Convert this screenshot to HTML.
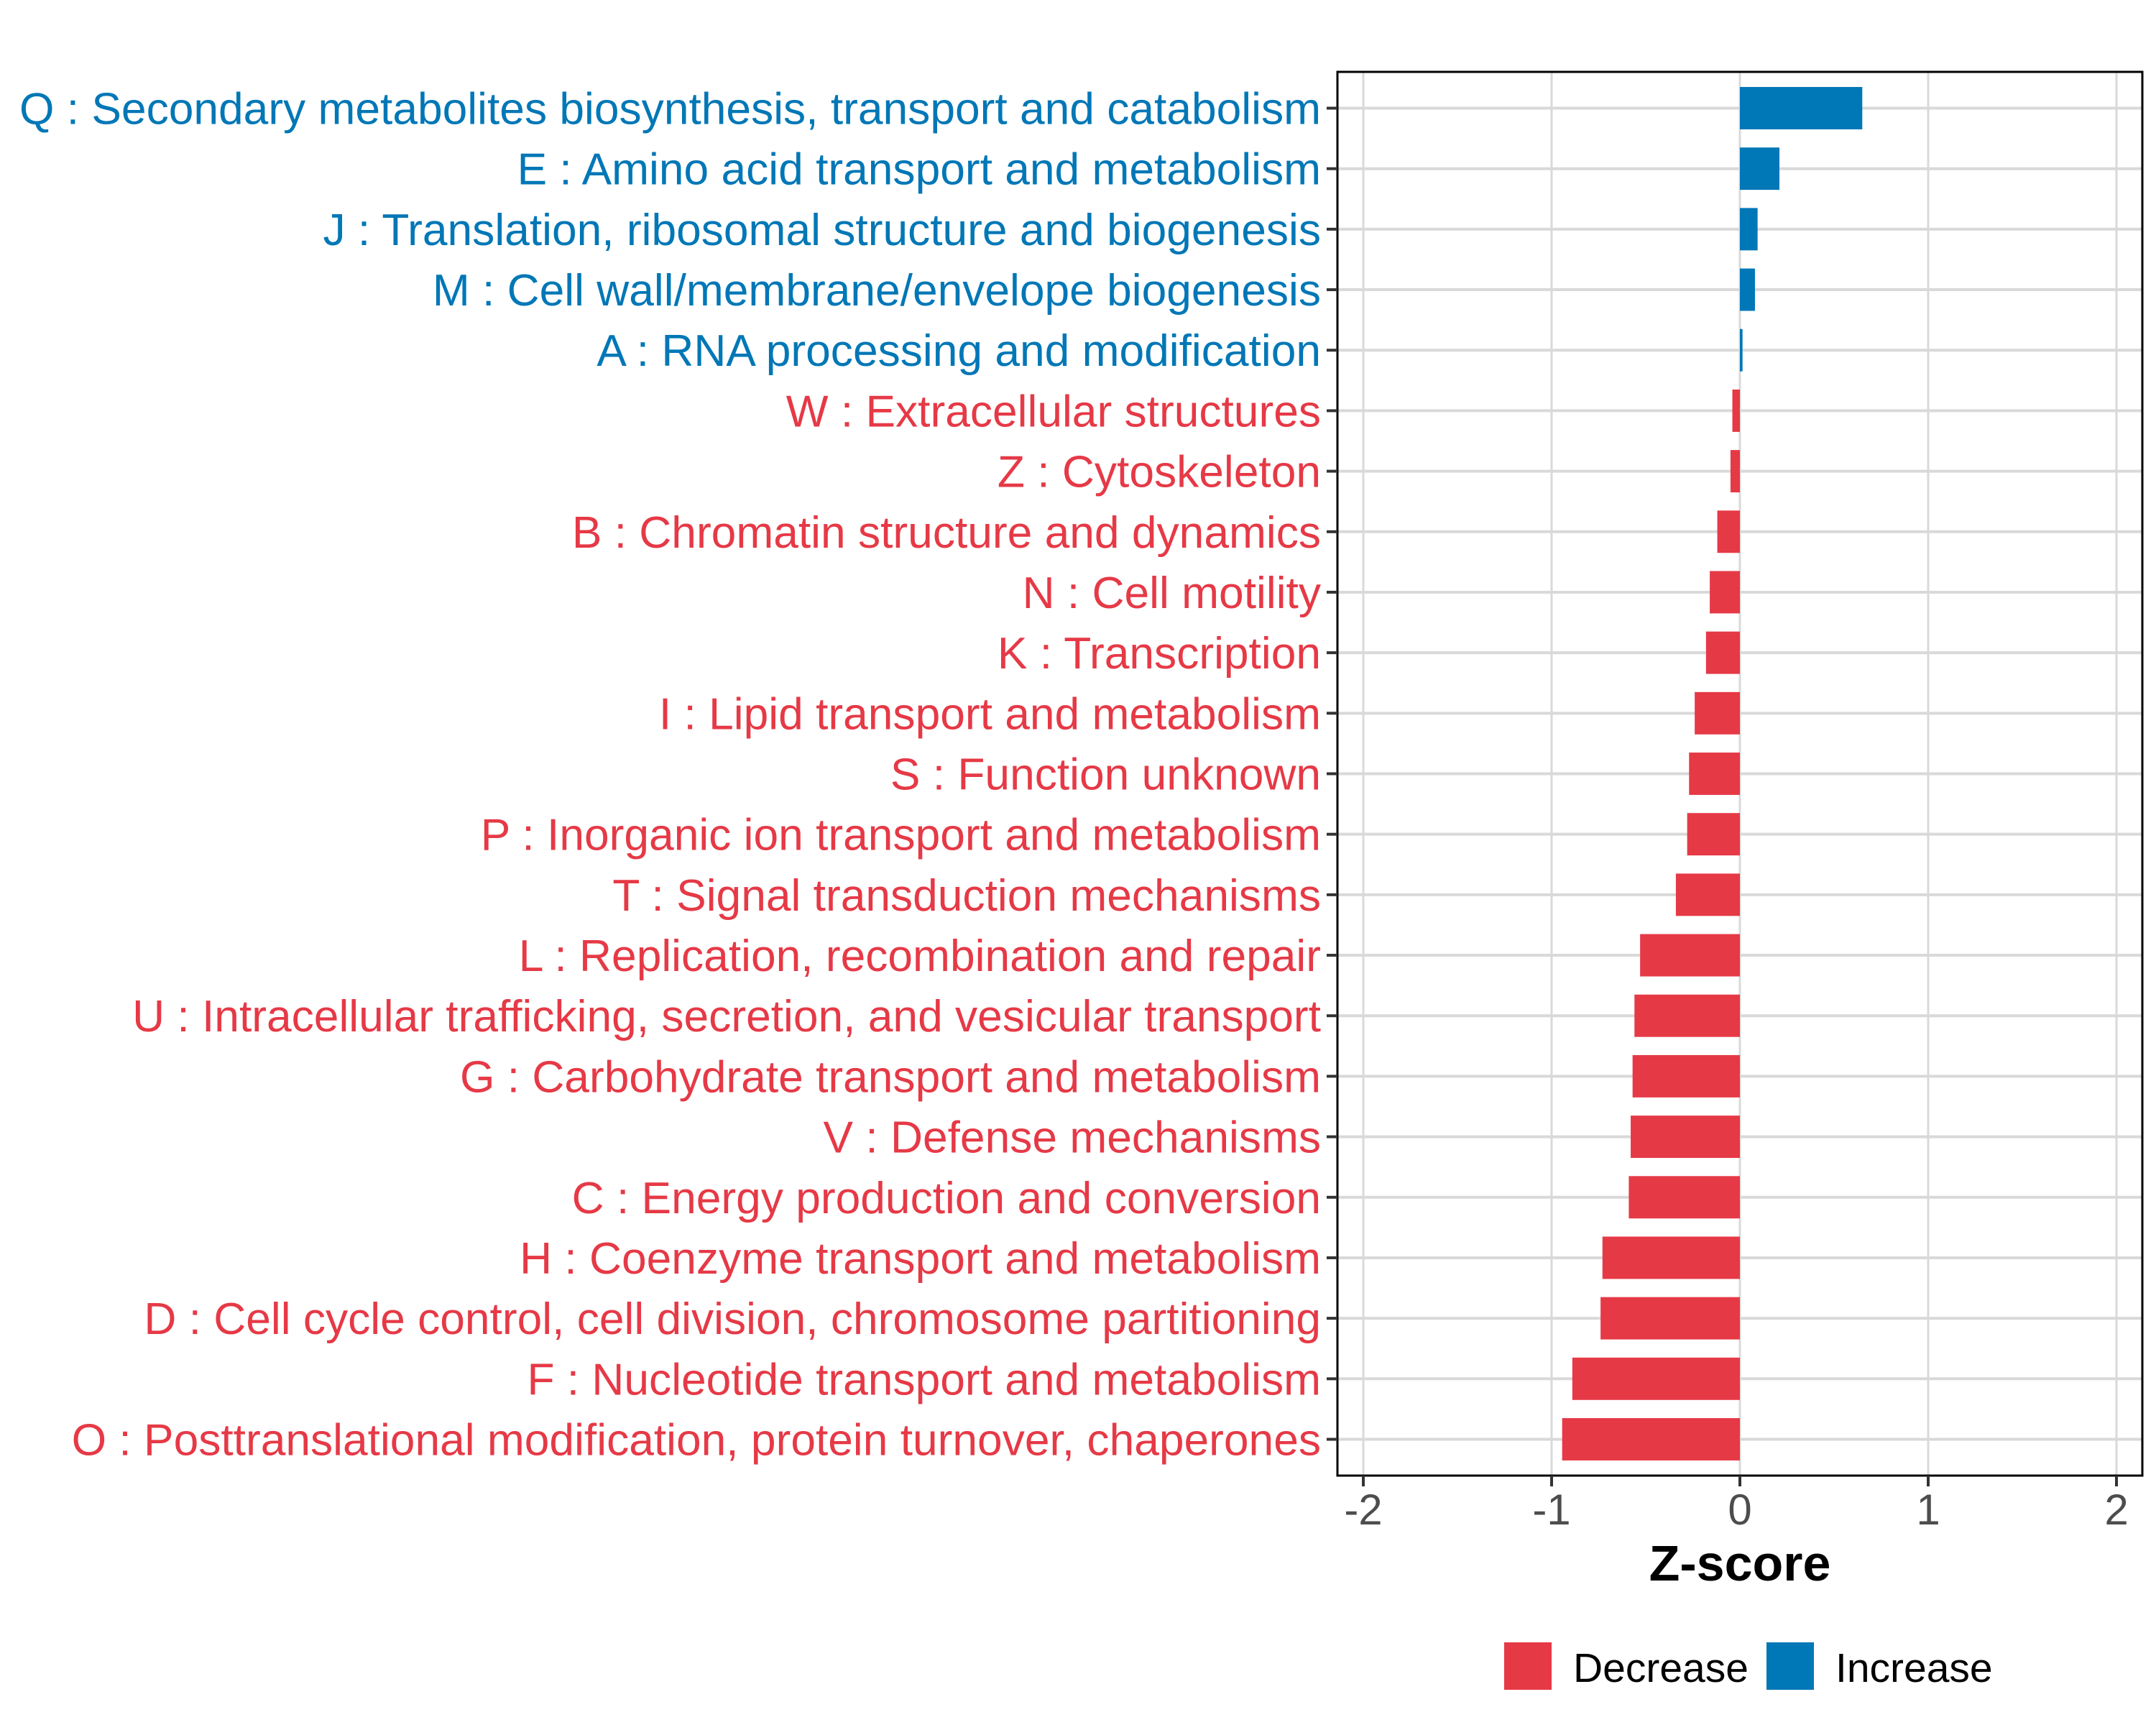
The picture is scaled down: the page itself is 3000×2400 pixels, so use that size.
<!DOCTYPE html>
<html><head><meta charset="utf-8"><style>
html,body{margin:0;padding:0;background:#fff;}
svg{display:block;font-family:"Liberation Sans",Arial,sans-serif;}
</style></head><body>
<svg id="chart" width="3000" height="2400" viewBox="0 0 3000 2400" xmlns="http://www.w3.org/2000/svg">
<rect x="0" y="0" width="3000" height="2400" fill="#fff"/>
<g id="grid"></g>
<g id="bars"></g>
<rect x="1861" y="100" width="1120" height="1953" fill="none" stroke="#000" stroke-width="3"/>
<g id="yaxis"></g>
<g id="xaxis"></g>
<text x="2421" y="2199" text-anchor="middle" font-size="70" font-weight="bold" fill="#000">Z-score</text>
<g>
<rect x="2093" y="2285" width="66" height="66" fill="#e63946"/>
<text x="2189" y="2340" font-size="57" fill="#000">Decrease</text>
<rect x="2458" y="2285" width="66" height="66" fill="#0077b6"/>
<text x="2554" y="2340" font-size="57" fill="#000">Increase</text>
</g>
</svg>
<script>
const categories = [
"Q : Secondary metabolites biosynthesis, transport and catabolism",
"E : Amino acid transport and metabolism",
"J : Translation, ribosomal structure and biogenesis",
"M : Cell wall/membrane/envelope biogenesis",
"A : RNA processing and modification",
"W : Extracellular structures",
"Z : Cytoskeleton",
"B : Chromatin structure and dynamics",
"N : Cell motility",
"K : Transcription",
"I : Lipid transport and metabolism",
"S : Function unknown",
"P : Inorganic ion transport and metabolism",
"T : Signal transduction mechanisms",
"L : Replication, recombination and repair",
"U : Intracellular trafficking, secretion, and vesicular transport",
"G : Carbohydrate transport and metabolism",
"V : Defense mechanisms",
"C : Energy production and conversion",
"H : Coenzyme transport and metabolism",
"D : Cell cycle control, cell division, chromosome partitioning",
"F : Nucleotide transport and metabolism",
"O : Posttranslational modification, protein turnover, chaperones"
];
const zscores = [0.65,0.21,0.094,0.08,0.014,-0.04,-0.05,-0.12,-0.16,-0.18,-0.24,-0.27,-0.28,-0.34,-0.53,-0.56,-0.57,-0.58,-0.59,-0.73,-0.74,-0.89,-0.944];
const xTicks = [-2,-1,0,1,2];
const xTickLabels = ["-2","-1","0","1","2"];

const NS="http://www.w3.org/2000/svg";
const panel={l:1861,r:2981,t:100,b:2053};
function xs(v){return 2421+v*262;}
const n=categories.length;
const unit=(panel.b-panel.t)/(n-1+1.2);
function ys(i){return panel.t+unit*(0.6+i);}
function mk(tag,attrs,parent){const e=document.createElementNS(NS,tag);for(const k in attrs)e.setAttribute(k,attrs[k]);parent.appendChild(e);return e;}
const grid=document.getElementById('grid'),bars=document.getElementById('bars'),ya=document.getElementById('yaxis'),xa=document.getElementById('xaxis');
const BLUE="#0077b6",RED="#e63946";
xTicks.forEach((t,k)=>{
  const g=mk('line',{x1:xs(t),x2:xs(t),y1:panel.t,y2:panel.b,stroke:"#d9d9d9","stroke-width":3},grid);
  
  
  const tk=mk('line',{x1:xs(t),x2:xs(t),y1:panel.b,y2:panel.b+15,stroke:"#333","stroke-width":4},xa);
  
  
  const lb=mk('text',{x:xs(t),y:2121,"text-anchor":"middle","font-size":60,fill:"#4d4d4d"},xa);
  lb.textContent=xTickLabels[k];
  
  
});
categories.forEach((c,i)=>{
  const y=ys(i);
  const g=mk('line',{x1:panel.l,x2:panel.r,y1:y,y2:y,stroke:"#d9d9d9","stroke-width":4},grid);
  
  
  const v=zscores[i];
  const col=v>=0?BLUE:RED;
  const bh=unit*0.7;
  const x0=Math.min(xs(0),xs(v)),w=Math.abs(xs(v)-xs(0));
  const b=mk('rect',{x:x0,y:y-bh/2,width:Math.max(w,1),height:bh,fill:col},bars);
  
  
  const tk=mk('line',{x1:panel.l-15,x2:panel.l,y1:y,y2:y,stroke:"#333","stroke-width":4},ya);
  
  
  const lb=mk('text',{x:1838,y:y+22,"text-anchor":"end","font-size":62.3,fill:col},ya);
  lb.textContent=c;
  
  
});
</script>
</body></html>
